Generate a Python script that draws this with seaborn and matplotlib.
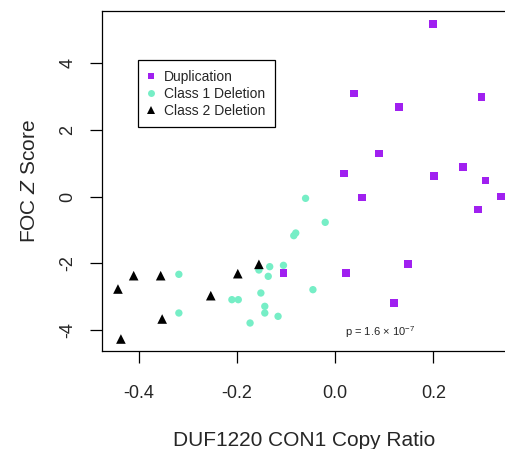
import pandas as pd
import matplotlib
matplotlib.use("Agg")
import matplotlib.pyplot as plt
import seaborn as sns

# Values
dup_x = [0.199, 0.039, 0.298, 0.130, 0.090, 0.018, 0.260, 0.201, 0.306,
         0.338, 0.291, 0.055, 0.149, 0.022, -0.105, 0.120]
dup_y = [5.18, 3.09, 2.99, 2.69, 1.29, 0.70, 0.89, 0.62, 0.48,
         0.00, -0.39, -0.02, -2.02, -2.29, -2.29, -3.19]

del1_x = [-0.060, -0.020, -0.080, -0.084, -0.105, -0.133, -0.155, -0.136, -0.318,
          -0.045, -0.151, -0.210, -0.197, -0.143, -0.318, -0.143, -0.116, -0.173]
del1_y = [-0.05, -0.77, -1.09, -1.17, -2.06, -2.10, -2.20, -2.39, -2.33,
          -2.79, -2.89, -3.09, -3.09, -3.29, -3.49, -3.49, -3.59, -3.79]

del2_x = [-0.155, -0.198, -0.410, -0.355, -0.442, -0.253, -0.352, -0.436]
del2_y = [-2.03, -2.31, -2.37, -2.37, -2.77, -2.97, -3.67, -4.27]

groups = ["Duplication", "Class 1 Deletion", "Class 2 Deletion"]
colors = ["#A020F0", "#76EEC6", "#000000"]
markers = ["s", "o", "^"]
msizes = [30, 28, 48]

df = pd.concat([
    pd.DataFrame({"ratio": dup_x, "z": dup_y, "type": groups[0]}),
    pd.DataFrame({"ratio": del1_x, "z": del1_y, "type": groups[1]}),
    pd.DataFrame({"ratio": del2_x, "z": del2_y, "type": groups[2]}),
])

sns.set_theme(style="white")
plt.rcParams['font.family'] = ['Liberation Sans', 'DejaVu Sans']
plt.rcParams['axes.unicode_minus'] = False
plt.rcParams['mathtext.fontset'] = 'custom'
plt.rcParams['mathtext.rm'] = 'Liberation Sans'
plt.rcParams['mathtext.it'] = 'Liberation Sans:italic'

fig = plt.figure(figsize=(5.06, 4.49), dpi=100)
ax = fig.add_axes([102 / 506, 98 / 449, 428 / 506, 340 / 449])

sns.scatterplot(data=df, x="ratio", y="z", hue="type", style="type", size="type",
                hue_order=groups, style_order=groups, size_order=groups,
                palette=dict(zip(groups, colors)), markers=dict(zip(groups, markers)),
                sizes=dict(zip(groups, msizes)), linewidth=0, ax=ax)

ax.set_xlim(-0.4745, 0.397)
ax.set_ylim(-4.63, 5.57)
ax.set_xticks([-0.4, -0.2, 0.0, 0.2])
ax.set_xticklabels(["-0.4", "-0.2", "0.0", "0.2"])
ax.set_yticks([-4, -2, 0, 2, 4])
ax.set_yticklabels(["-4", "-2", "0", "2", "4"])
ax.tick_params(axis="both", direction="out", length=8.5, width=0.9, color="black",
               labelsize=13, bottom=True, left=True)
ax.tick_params(axis="x", pad=16)
ax.tick_params(axis="y", pad=10)
for lab in ax.get_yticklabels():
    lab.set_rotation(90)
    lab.set_va("center")

for side in ["left", "top", "bottom"]:
    ax.spines[side].set_color("black")
    ax.spines[side].set_linewidth(0.9)
ax.spines["right"].set_visible(False)

ax.set_xlabel("DUF1220 CON1 Copy Ratio", fontsize=15)
ax.set_ylabel("FOC $\\it{Z}$ Score", fontsize=15)
ax.xaxis.set_label_coords(202 / 428, -0.235)
ax.yaxis.set_label_coords(-0.148, 0.5)

ax.text(0.092, -4.06, "p = 1.6 $\\times$ 10$^{-7}$", fontsize=8,
        ha="center", va="center")

handles, labels = ax.get_legend_handles_labels()
leg = ax.legend(handles, labels, loc="upper left", bbox_to_anchor=(0.083, 0.855),
                borderaxespad=0, frameon=True, fancybox=False, edgecolor="black",
                framealpha=1, fontsize=10.0, handlelength=0.6, handletextpad=0.6,
                borderpad=0.7, labelspacing=0.2)
leg.get_frame().set_linewidth(0.9)
for h, ms in zip(leg.legend_handles, [5, 5, 6]):
    h.set_markersize(ms)

plt.savefig("out.png", dpi=100)
